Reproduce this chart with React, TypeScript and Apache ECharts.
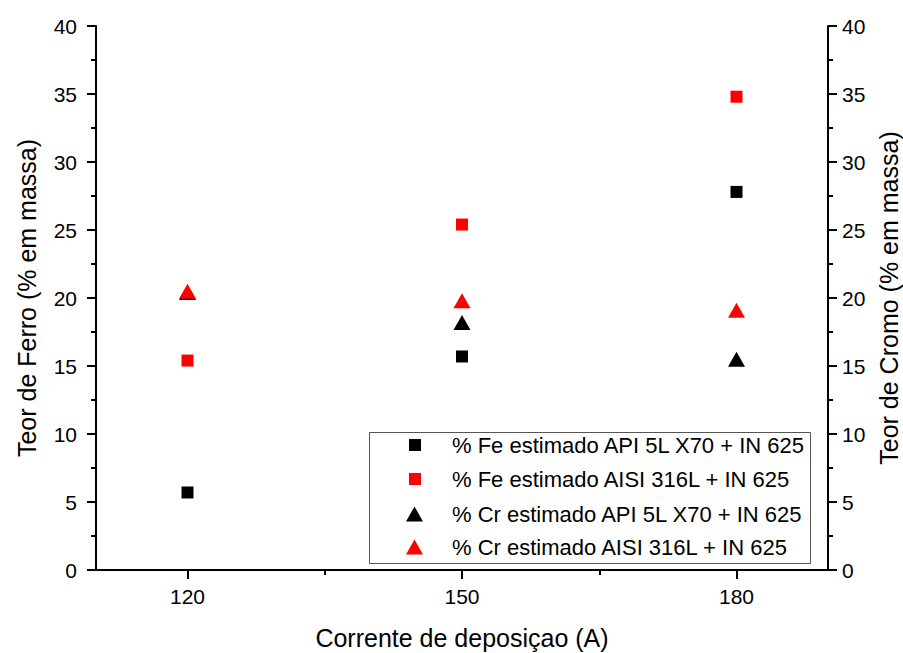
import React, { useEffect, useRef } from "react";
import * as echarts from "echarts";

const currents = [120, 150, 180];
const feApi = [5.7, 15.7, 27.8];
const feAisi = [15.4, 25.4, 34.8];
const crApi = [20.4, 18.2, 15.5];
const crAisi = [20.5, 19.8, 19.1];
const xMajorTicks = [120, 150, 180];
const xMinorTicks = [135, 165];
const seriesNames = [
  "% Fe estimado API 5L X70 + IN 625",
  "% Fe estimado AISI 316L + IN 625",
  "% Cr estimado API 5L X70 + IN 625",
  "% Cr estimado AISI 316L + IN 625",
];

const FONT = "'Liberation Sans', Arial, sans-serif";

const pairs = (ys: number[]) => currents.map((x, i) => [x, ys[i]]);

export default function App() {
  const ref = useRef<HTMLDivElement>(null);
  useEffect(() => {
    if (!ref.current) return;
    const chart = echarts.init(ref.current, null, { renderer: "svg" });
    const axisLine = { show: true, lineStyle: { color: "#000", width: 2 } };
    const legendText = { fontFamily: FONT, fontSize: 22, color: "#000" };
    const titleText = { fontFamily: FONT, fontSize: 25, color: "#000" };
    chart.setOption({
      animation: false,
      backgroundColor: "#fff",
      textStyle: { fontFamily: FONT, color: "#000" },
      grid: { left: 96, top: 26, right: 75, bottom: 83, containLabel: false, outerBoundsMode: "none" },
      graphic: [
        {
          type: "rect",
          left: 369,
          top: 432,
          shape: { x: 0, y: 0, width: 441, height: 131 },
          style: { fill: "rgba(0,0,0,0)", stroke: "#555", lineWidth: 1 },
          z: 10,
        },
      ],
      legend: [
        {
          orient: "vertical",
          left: 409,
          top: 434,
          padding: 0,
          itemWidth: 12,
          itemHeight: 12,
          itemGap: 12,
          textStyle: { ...legendText, padding: [0, 0, 0, 26] },
          data: [seriesNames[0], seriesNames[1]],
        },
        {
          orient: "vertical",
          left: 406,
          top: 503,
          padding: 0,
          itemWidth: 17,
          itemHeight: 15,
          itemGap: 11,
          textStyle: { ...legendText, padding: [0, 0, 0, 24] },
          data: [seriesNames[2], seriesNames[3]],
        },
      ],
      xAxis: [
        {
          type: "value",
          min: 110,
          max: 190,
          name: "Corrente de deposiçao (A)",
          nameLocation: "middle",
          nameGap: 55,
          nameTextStyle: titleText,
          axisLine,
          splitLine: { show: false },
          axisTick: { show: true, customValues: xMajorTicks, length: 9, lineStyle: { color: "#000", width: 2 } },
          axisLabel: { customValues: xMajorTicks, margin: 16, fontFamily: FONT, fontSize: 21, color: "#000" },
        },
        {
          type: "value",
          min: 110,
          max: 190,
          position: "bottom",
          axisLine: { show: false },
          splitLine: { show: false },
          axisTick: { show: true, customValues: xMinorTicks, length: 5, lineStyle: { color: "#000", width: 2 } },
          axisLabel: { show: false, customValues: xMinorTicks },
        },
      ],
      yAxis: [
        {
          type: "value",
          min: 0,
          max: 40,
          interval: 5,
          position: "left",
          name: "Teor de Ferro (% em massa)",
          nameLocation: "middle",
          nameGap: 57,
          nameTextStyle: titleText,
          axisLine,
          splitLine: { show: false },
          axisTick: { show: true, length: 9, lineStyle: { color: "#000", width: 2 } },
          minorTick: { show: true, splitNumber: 2, length: 5, lineStyle: { color: "#000", width: 2 } },
          axisLabel: { margin: 19, fontFamily: FONT, fontSize: 21, color: "#000" },
        },
        {
          type: "value",
          min: 0,
          max: 40,
          interval: 5,
          position: "right",
          name: "Teor de Cromo (% em massa)",
          nameLocation: "middle",
          nameGap: 46,
          nameRotate: 90,
          nameTextStyle: titleText,
          axisLine,
          splitLine: { show: false },
          axisTick: { show: true, length: 9, lineStyle: { color: "#000", width: 2 } },
          minorTick: { show: true, splitNumber: 2, length: 5, lineStyle: { color: "#000", width: 2 } },
          axisLabel: { margin: 14, fontFamily: FONT, fontSize: 21, color: "#000" },
        },
      ],
      series: [
        {
          name: seriesNames[0],
          type: "scatter",
          symbol: "rect",
          symbolSize: 12,
          itemStyle: { color: "#000", opacity: 1 },
          data: pairs(feApi),
        },
        {
          name: seriesNames[1],
          type: "scatter",
          symbol: "rect",
          symbolSize: 12,
          itemStyle: { color: "#ff0000", opacity: 1 },
          data: pairs(feAisi),
        },
        {
          name: seriesNames[2],
          type: "scatter",
          symbol: "triangle",
          symbolSize: [17, 15],
          yAxisIndex: 1,
          itemStyle: { color: "#000", opacity: 1 },
          data: pairs(crApi),
        },
        {
          name: seriesNames[3],
          type: "scatter",
          symbol: "triangle",
          symbolSize: [17, 15],
          yAxisIndex: 1,
          itemStyle: { color: "#ff0000", opacity: 1 },
          data: pairs(crAisi),
        },
      ],
    });
    return () => chart.dispose();
  }, []);
  return (
    <div
      ref={ref}
      style={{ position: "fixed", left: 0, top: 0, width: 903, height: 653, background: "#fff" }}
    />
  );
}
